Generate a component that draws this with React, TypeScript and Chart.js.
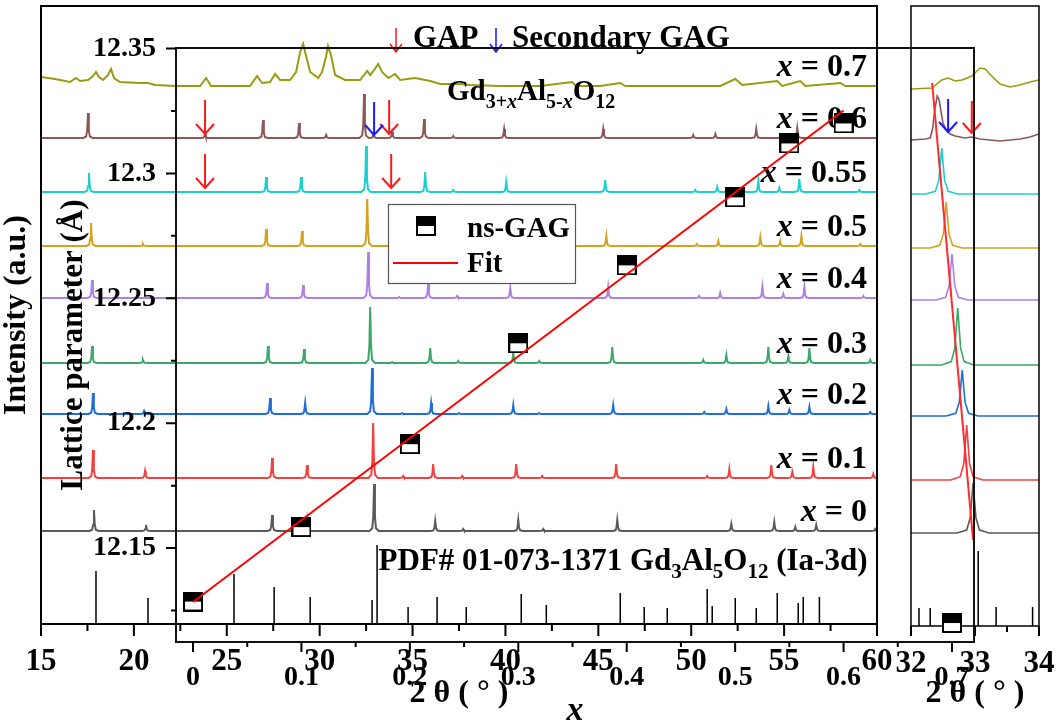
import React, { useEffect, useRef } from 'react';
import { Chart, registerables } from 'chart.js';

Chart.register(...registerables);

const SERIF = '"Liberation Serif", "Times New Roman", Times, serif';
const B = (s: number) => `bold ${s}px ${SERIF}`;
const BI = (s: number) => `italic bold ${s}px ${SERIF}`;

// ---------------- main XRD panel (2θ in °, intensity in a.u.) ----------------
const SAMPLE_LABELS = ['0', '0.1', '0.2', '0.3', '0.4', '0.5', '0.55', '0.6', '0.7'];
const TRACE_OFFSETS = [93, 146, 210, 261, 326, 378, 432, 486, 538];
const TRACE_COLORS = ['#5a5a5a', '#f2413f', '#1f6ed8', '#3aa866', '#b07fe6', '#d5a21a', '#1ccfcf', '#8b5757', '#9b9b12'];

// [2θ, peak height]
const PEAKS_X0 = [[17.85, 21], [20.65, 6], [27.44, 16], [29.32, 11], [32.93, 47], [36.22, 10], [37.72, 2], [40.69, 11], [42.03, 2], [46.02, 11], [52.16, 7], [54.47, 9], [55.6, 4], [56.73, 6], [59.9, 2]];
const PEAKS_X01 = [[17.8, 28], [20.6, 7], [27.44, 20], [29.32, 13], [32.88, 55], [34.49, 2], [36.11, 14], [37.67, 2], [40.58, 14], [41.98, 2], [45.96, 14], [50.86, 2], [52.05, 9], [54.31, 13], [55.44, 6], [56.57, 11], [59.8, 4]];
const PEAKS_X02 = [[17.8, 21], [20.55, 3], [27.33, 16], [29.22, 11], [32.82, 46], [34.44, 1], [36.0, 11], [37.51, 1], [40.42, 9], [41.82, 1], [45.8, 9], [50.7, 2], [51.89, 5], [54.15, 8], [55.28, 4], [56.36, 7], [59.64, 2]];
const PEAKS_X03 = [[17.75, 17], [20.49, 3], [27.22, 17], [29.16, 14], [32.72, 56], [33.9, 1], [35.95, 15], [37.46, 2], [40.42, 10], [41.82, 2], [45.75, 16], [50.65, 3], [51.89, 8], [54.15, 16], [55.23, 7], [56.36, 15], [59.64, 3]];
const PEAKS_X04 = [[17.75, 18], [27.17, 15], [29.11, 13], [32.61, 46], [34.28, 1], [35.84, 15], [37.4, 2], [40.26, 10], [45.53, 11], [50.43, 2], [51.56, 5], [53.83, 11], [54.96, 4], [56.09, 11], [59.27, 2]];
const PEAKS_X05 = [[17.69, 23], [20.49, 2], [27.12, 17], [29.05, 15], [32.56, 47], [35.68, 14], [37.3, 2], [40.09, 6], [45.43, 10], [50.3, 2], [51.46, 5], [53.72, 9], [54.79, 5], [55.93, 10], [59.1, 2]];
const PEAKS_X055 = [[17.58, 19], [27.12, 15], [29.0, 15], [32.5, 46], [35.68, 20], [37.19, 2], [40.04, 10], [45.37, 12], [50.22, 2], [51.4, 5], [53.61, 11], [54.74, 4], [55.82, 13], [59.05, 2]];
const PEAKS_X06 = [[17.53, 25], [23.83, 4], [26.95, 18], [28.89, 15], [30.35, 3], [32.39, 44], [32.9, 4], [33.9, 6], [35.62, 19], [37.19, 2], [39.93, 9], [45.26, 9], [50.11, 3], [51.3, 4], [53.5, 9], [55.71, 10]];
// x = 0.7 is broad and noisy: read as a point list [2θ, intensity]
const TRACE_X07 = [[15.0, 9], [15.75, 7], [16.56, 4], [16.88, 8], [17.1, 5], [17.53, 6], [17.8, 10], [17.96, 14], [18.12, 9], [18.34, 6], [18.61, 11], [18.77, 17], [18.93, 8], [19.25, 4], [20.33, 3], [20.76, 3], [21.14, 1], [22.22, 0], [23.56, 0], [23.89, 8], [24.15, 0], [26.25, 0], [26.63, 10], [26.9, 3], [27.33, 4], [27.6, 12], [27.87, 6], [28.41, 6], [28.73, 14], [28.95, 34], [29.11, 42], [29.27, 30], [29.49, 14], [29.92, 8], [30.13, 14], [30.35, 30], [30.45, 40], [30.62, 30], [30.83, 11], [31.37, 6], [32.18, 6], [32.56, 15], [32.72, 11], [32.93, 16], [33.15, 22], [33.36, 14], [33.69, 8], [34.06, 12], [34.33, 6], [35.14, 8], [35.95, 5], [36.49, 2], [37.56, 2], [38.1, 1], [39.72, 0], [41.87, 0], [43.59, 4], [43.81, 0], [45.1, 0], [46.18, 3], [46.45, 0], [49.41, 0], [51.56, 0], [52.37, 7], [52.75, 1], [54.63, 5], [54.9, 0], [55.87, 5], [56.14, 0], [58.03, 3], [58.3, 0], [60.0, 0]];
const MAIN_PEAKS = [PEAKS_X0, PEAKS_X01, PEAKS_X02, PEAKS_X03, PEAKS_X04, PEAKS_X05, PEAKS_X055, PEAKS_X06];

// PDF# 01-073-1371 reference sticks [2θ, height]
const PDF_STICKS = [[17.96, 53], [20.76, 26], [25.39, 50], [27.55, 37], [29.49, 27], [32.82, 24], [33.09, 79], [34.76, 17], [36.32, 27], [37.89, 17], [40.85, 30], [42.2, 19], [46.18, 31], [47.47, 17], [48.71, 16], [50.86, 35], [51.13, 18], [52.37, 26], [53.5, 16], [54.63, 31], [55.76, 21], [56.03, 27], [56.9, 27], [60.17, 19], [61.2, 21]];

// GAP / secondary GAG markers [2θ, sample index]
const GAP_MARKS = [[23.83, 7], [33.74, 7], [23.83, 6], [33.85, 6]];
const SECONDARY_MARKS = [[32.93, 7]];

// ---------------- zoomed panel 32–34° ----------------
const ZOOM_PEAKS = [[[32.97, 50]], [[32.87, 55]], [[32.8, 46]], [[32.73, 57]], [[32.64, 46]], [[32.55, 46]], [[32.48, 46]]];
const ZOOM_TRACE_X06 = [[32.0, 0], [32.22, 1], [32.3, 2], [32.34, 12], [32.37, 30], [32.41, 44], [32.44, 40], [32.47, 28], [32.5, 17], [32.55, 10], [32.61, 6], [32.69, 4], [32.84, 2], [32.95, 3], [33.08, 1], [33.39, -1], [33.7, 1], [33.86, 3], [34.0, 6]];
const ZOOM_TRACE_X07 = [[32.0, -1], [32.33, 0], [32.48, 8], [32.58, 10], [32.69, 7], [32.8, 8], [32.95, 12], [33.08, 20], [33.16, 19], [33.23, 14], [33.39, 4], [33.55, 1], [33.7, 3], [33.86, 6], [34.0, 8]];
const ZOOM_STICKS = [[32.125, 18], [32.3, 18], [33.05, 75], [33.33, 19], [33.9, 19], [34.2, 21]];
const ZOOM_GUIDE = [[32.33, 543], [32.97, 86]];
const ZOOM_GAP_MARKS = [[32.95, 7]];
const ZOOM_SECONDARY_MARKS = [[32.58, 7]];

// ---------------- inset: lattice parameter vs x ----------------
const X_CONTENT = [0, 0.1, 0.2, 0.3, 0.4, 0.5, 0.55, 0.6, 0.7];
const LATTICE = [12.1286, 12.1584, 12.1916, 12.232, 12.2632, 12.2904, 12.312, 12.32, 12.12];
const FIT_X = [0, 0.6];
const FIT_Y = [12.1284, 12.3252];

// peak drawing shape (relative 2θ, fraction of height)
const PEAK_SHAPE = [[-0.25, 0], [-0.1, 0.06], [-0.045, 0.3], [0, 1], [0.045, 0.3], [0.1, 0.06], [0.25, 0]];

function peakTrace(peaks: number[][], offset: number, from: number, to: number) {
  const pts: any[] = [{ x: from, y: offset }];
  peaks.forEach(([p, h]) => {
    PEAK_SHAPE.forEach(([dx, f]) => pts.push({ x: p + dx, y: offset + f * h }));
  });
  pts.push({ x: to, y: offset });
  return pts;
}
function pointTrace(points: number[][], offset: number) {
  return points.map(([x, v]) => ({ x, y: offset + v }));
}
function stickTrace(sticks: number[][]) {
  const pts: any[] = [];
  sticks.forEach(([x, h]) => {
    pts.push({ x, y: 0 }, { x, y: h }, { x, y: null });
  });
  return pts;
}

function drawRich(ctx: CanvasRenderingContext2D, segs: any[], x: number, y: number, align: string) {
  const widths = segs.map((s) => {
    ctx.font = s[1];
    return ctx.measureText(s[0]).width;
  });
  const total = widths.reduce((a, b) => a + b, 0);
  let cx = align === 'right' ? x - total : align === 'center' ? x - total / 2 : x;
  ctx.textAlign = 'left';
  ctx.textBaseline = 'alphabetic';
  segs.forEach((s, i) => {
    ctx.font = s[1];
    ctx.fillText(s[0], cx, y + (s[2] || 0));
    cx += widths[i];
  });
}

function arrow(ctx: CanvasRenderingContext2D, x: number, yTail: number, yTip: number, color: string, hw: number, hh: number, lw: number) {
  ctx.save();
  ctx.strokeStyle = color;
  ctx.lineWidth = lw;
  ctx.beginPath();
  ctx.moveTo(x, yTail);
  ctx.lineTo(x, yTip);
  ctx.moveTo(x - hw, yTip - hh);
  ctx.lineTo(x, yTip);
  ctx.lineTo(x + hw, yTip - hh);
  ctx.stroke();
  ctx.restore();
}

function ticksX(ctx: CanvasRenderingContext2D, scale: any, y: number, min: number, max: number, minor: number, major: number, majLen: number, minLen: number, dir: number) {
  ctx.save();
  ctx.strokeStyle = '#000';
  ctx.lineWidth = 2;
  ctx.beginPath();
  const start = Math.ceil(min / minor - 1e-9);
  for (let k = start; k * minor <= max + 1e-9; k++) {
    const v = k * minor;
    const isMaj = Math.abs(v / major - Math.round(v / major)) < 1e-6;
    const px = scale.getPixelForValue(v);
    ctx.moveTo(px, y);
    ctx.lineTo(px, y + dir * (isMaj ? majLen : minLen));
  }
  ctx.stroke();
  ctx.restore();
}
function ticksY(ctx: CanvasRenderingContext2D, scale: any, x: number, min: number, max: number, minor: number, major: number, majLen: number, minLen: number, dir: number) {
  ctx.save();
  ctx.strokeStyle = '#000';
  ctx.lineWidth = 2;
  ctx.beginPath();
  const start = Math.ceil(min / minor - 1e-9);
  for (let k = start; k * minor <= max + 1e-9; k++) {
    const v = k * minor;
    const isMaj = Math.abs(v / major - Math.round(v / major)) < 1e-6;
    const py = scale.getPixelForValue(v);
    ctx.moveTo(x, py);
    ctx.lineTo(x + dir * (isMaj ? majLen : minLen), py);
  }
  ctx.stroke();
  ctx.restore();
}

function makeMarker() {
  const m = document.createElement('canvas');
  m.width = 20;
  m.height = 20;
  const c = m.getContext('2d')!;
  c.fillStyle = '#fff';
  c.fillRect(0, 0, 20, 20);
  c.fillStyle = '#000';
  c.fillRect(0, 0, 20, 10);
  c.strokeStyle = '#000';
  c.lineWidth = 2;
  c.strokeRect(1, 1, 18, 18);
  return m;
}

const RED = '#ff1a1a';
const BLUE = '#1a1aff';
// hidden grid; tick length only spaces the labels away from the axis (marks drawn by plugins)
const gridSpace = (len: number) => ({ display: false, drawTicks: true, tickLength: len });

export default function App() {
  const mainRef = useRef<HTMLCanvasElement>(null);
  const zoomRef = useRef<HTMLCanvasElement>(null);
  const insetRef = useRef<HTMLCanvasElement>(null);

  useEffect(() => {
    const marker = makeMarker();

    // ---------- main panel ----------
    const mainDatasets: any[] = [];
    SAMPLE_LABELS.forEach((lab, i) => {
      const data = i === 8 ? pointTrace(TRACE_X07, TRACE_OFFSETS[i]) : peakTrace(MAIN_PEAKS[i], TRACE_OFFSETS[i], 15, 60);
      mainDatasets.push({ label: 'x = ' + lab, data, borderColor: TRACE_COLORS[i], borderWidth: 2, pointRadius: 0, tension: 0 });
    });
    mainDatasets.push({ label: 'PDF# 01-073-1371', data: stickTrace(PDF_STICKS), borderColor: '#000', borderWidth: 1.5, pointRadius: 0, spanGaps: false, clip: false });

    const mainDecor = {
      id: 'mainDecor',
      afterDraw(chart: any) {
        const { ctx, chartArea: ca } = chart;
        const xs = chart.scales.x;
        const ys = chart.scales.y;
        ctx.save();
        ctx.strokeStyle = '#000';
        ctx.lineWidth = 2;
        ctx.strokeRect(ca.left, ca.top, ca.right - ca.left, ca.bottom - ca.top);
        ticksX(ctx, xs, ca.bottom, 15, 60, 2.5, 5, 12, 7, 1);
        ctx.fillStyle = '#000';
        SAMPLE_LABELS.forEach((lab, i) => {
          const y = ys.getPixelForValue(TRACE_OFFSETS[i]) - 10;
          drawRich(ctx, [['x', BI(32)], [' = ' + lab, B(32)]], ca.right - 10, y, 'right');
        });
        // phase markers
        GAP_MARKS.forEach(([t, i]) => {
          const tip = ys.getPixelForValue(TRACE_OFFSETS[i]) - 4;
          arrow(ctx, xs.getPixelForValue(t), tip - 34, tip, RED, 9, 10, 2);
        });
        SECONDARY_MARKS.forEach(([t, i]) => {
          const tip = ys.getPixelForValue(TRACE_OFFSETS[i]) - 3;
          arrow(ctx, xs.getPixelForValue(t), tip - 33, tip, BLUE, 9, 10, 2);
        });
        // key
        arrow(ctx, 396, 28, 52, RED, 6, 8, 1.5);
        arrow(ctx, 496, 28, 52, BLUE, 6, 8, 1.5);
        ctx.fillStyle = '#000';
        drawRich(ctx, [['GAP', B(31)]], 413, 47, 'left');
        drawRich(ctx, [['Secondary GAG', B(31)]], 512, 47, 'left');
        // formula
        drawRich(ctx, [['Gd', B(29)], ['3+', B(20), 8], ['x', BI(20), 8], ['Al', B(29)], ['5-', B(20), 8], ['x', BI(20), 8], ['O', B(29)], ['12', B(20), 8]], 447, 100, 'left');
        // PDF label
        drawRich(ctx, [['PDF# 01-073-1371 Gd', B(31)], ['3', B(21), 8], ['Al', B(31)], ['5', B(21), 8], ['O', B(31)], ['12', B(21), 8], [' (Ia-3d)', B(31)]], 623, 570, 'center');
        // axis titles
        drawRich(ctx, [['2 θ ( ° )', B(32)]], (ca.left + ca.right) / 2, 702, 'center');
        ctx.save();
        ctx.translate(25, (ca.top + ca.bottom) / 2);
        ctx.rotate(-Math.PI / 2);
        drawRich(ctx, [['Intensity (a.u.)', B(32)]], 0, 0, 'center');
        ctx.restore();
        ctx.restore();
      },
    };

    const mainChart = new Chart(mainRef.current!, {
      type: 'line',
      data: { datasets: mainDatasets },
      options: {
        responsive: false,
        animation: false,
        events: [],
        layout: { padding: { left: 41, top: 6, right: 185, bottom: 44 } },
        plugins: { legend: { display: false }, tooltip: { enabled: false } },
        scales: {
          x: {
            type: 'linear', min: 15, max: 60, position: 'bottom',
            afterFit: (s: any) => { s.height = 60; },
            grid: gridSpace(19), border: { display: false },
            ticks: { stepSize: 5, autoSkip: false, maxRotation: 0, padding: 0, color: '#000', font: { family: SERIF, size: 31, weight: 'bold' } },
          },
          y: { type: 'linear', min: 0, max: 618, display: false },
        },
      } as any,
      plugins: [mainDecor],
    });

    // ---------- zoom panel ----------
    const zoomDatasets: any[] = [];
    zoomDatasets.push({ label: 'shift guide', data: ZOOM_GUIDE.map(([x, y]) => ({ x, y })), borderColor: '#ff2a2a', borderWidth: 2, pointRadius: 0 });
    SAMPLE_LABELS.forEach((lab, i) => {
      let data;
      if (i === 7) data = pointTrace(ZOOM_TRACE_X06, TRACE_OFFSETS[i]);
      else if (i === 8) data = pointTrace(ZOOM_TRACE_X07, TRACE_OFFSETS[i]);
      else data = peakTrace(ZOOM_PEAKS[i], TRACE_OFFSETS[i], 32, 34);
      zoomDatasets.push({ label: 'x = ' + lab, data, borderColor: TRACE_COLORS[i], borderWidth: 1.6, pointRadius: 0, tension: 0 });
    });
    zoomDatasets.push({ label: 'PDF', data: stickTrace(ZOOM_STICKS), borderColor: '#000', borderWidth: 1.5, pointRadius: 0, spanGaps: false, clip: false });

    const zoomDecor = {
      id: 'zoomDecor',
      afterDraw(chart: any) {
        const { ctx, chartArea: ca } = chart;
        const xs = chart.scales.x;
        const ys = chart.scales.y;
        ctx.save();
        ctx.strokeStyle = '#000';
        ctx.lineWidth = 1.5;
        ctx.strokeRect(ca.left, ca.top, ca.right - ca.left, ca.bottom - ca.top);
        ticksX(ctx, xs, ca.bottom, 32, 34, 0.5, 1, 10, 6, 1);
        ZOOM_GAP_MARKS.forEach(([t, i]) => {
          const tip = ys.getPixelForValue(TRACE_OFFSETS[i]) - 7;
          arrow(ctx, xs.getPixelForValue(t), tip - 32, tip, RED, 9, 10, 2);
        });
        ZOOM_SECONDARY_MARKS.forEach(([t, i]) => {
          const tip = ys.getPixelForValue(TRACE_OFFSETS[i]) - 8;
          arrow(ctx, xs.getPixelForValue(t), tip - 33, tip, BLUE, 9, 10, 2);
        });
        ctx.fillStyle = '#000';
        drawRich(ctx, [['2 θ ( ° )', B(32)]], (ca.left + ca.right) / 2, 702, 'center');
        ctx.restore();
      },
    };

    const zoomChart = new Chart(zoomRef.current!, {
      type: 'line',
      data: { datasets: zoomDatasets },
      options: {
        responsive: false,
        animation: false,
        events: [],
        layout: { padding: { left: 911, top: 6, right: 23, bottom: 42 } },
        plugins: { legend: { display: false }, tooltip: { enabled: false } },
        scales: {
          x: {
            type: 'linear', min: 32, max: 34, position: 'bottom',
            afterFit: (s: any) => { s.height = 60; },
            grid: gridSpace(19), border: { display: false },
            ticks: { stepSize: 1, autoSkip: false, maxRotation: 0, padding: 0, color: '#000', font: { family: SERIF, size: 31, weight: 'bold' } },
          },
          y: { type: 'linear', min: 0, max: 620, display: false },
        },
      } as any,
      plugins: [zoomDecor],
    });

    // ---------- inset ----------
    const insetDecor = {
      id: 'insetDecor',
      afterDraw(chart: any) {
        const { ctx, chartArea: ca } = chart;
        const xs = chart.scales.x;
        const ys = chart.scales.y;
        ctx.save();
        ctx.strokeStyle = '#111';
        ctx.lineWidth = 2;
        ctx.strokeRect(ca.left, ca.top, ca.right - ca.left, ca.bottom - ca.top);
        ticksX(ctx, xs, ca.bottom, xs.min, xs.max, 0.05, 0.1, 10, 5, 1);
        ticksY(ctx, ys, ca.left, ys.min, ys.max, 0.025, 0.05, 10, 5, -1);
        // legend
        ctx.fillStyle = '#fff';
        ctx.fillRect(388, 204, 187, 79);
        ctx.strokeStyle = '#555';
        ctx.lineWidth = 1.2;
        ctx.strokeRect(388.5, 204.5, 187, 79);
        ctx.drawImage(marker, 416, 216);
        ctx.fillStyle = '#000';
        drawRich(ctx, [['ns-GAG', B(29)]], 467, 237, 'left');
        ctx.strokeStyle = '#ff0000';
        ctx.lineWidth = 2;
        ctx.beginPath();
        ctx.moveTo(393, 263);
        ctx.lineTo(458, 263);
        ctx.stroke();
        drawRich(ctx, [['Fit', B(29)]], 467, 272, 'left');
        // titles
        drawRich(ctx, [['x', BI(34)]], (ca.left + ca.right) / 2, 720, 'center');
        ctx.save();
        ctx.translate(82, (ca.top + ca.bottom) / 2);
        ctx.rotate(-Math.PI / 2);
        drawRich(ctx, [['Lattice parameter (Å)', B(31)]], 0, 0, 'center');
        ctx.restore();
        ctx.restore();
      },
    };

    const insetChart = new Chart(insetRef.current!, {
      type: 'line',
      data: {
        datasets: [
          { label: 'Fit', data: FIT_X.map((x, i) => ({ x, y: FIT_Y[i] })), borderColor: '#ff0000', borderWidth: 2, pointRadius: 0 },
          { label: 'ns-GAG', data: X_CONTENT.map((x, i) => ({ x, y: LATTICE[i] })), showLine: false, pointStyle: marker, pointRadius: 10, borderColor: '#000', backgroundColor: '#000' },
        ],
      },
      options: {
        responsive: false,
        animation: false,
        events: [],
        layout: { padding: { left: 76, top: 48, right: 88, bottom: 36 } },
        plugins: { legend: { display: false }, tooltip: { enabled: false } },
        scales: {
          x: {
            type: 'linear', min: -0.0157, max: 0.7203, position: 'bottom',
            afterFit: (s: any) => { s.height = 50; },
            grid: gridSpace(19), border: { display: false },
            ticks: {
              stepSize: 0.05, includeBounds: false, autoSkip: false, maxRotation: 0, padding: 0, color: '#000',
              font: { family: SERIF, size: 28, weight: 'bold' },
              callback: (v: number) => (Math.abs(v * 10 - Math.round(v * 10)) < 1e-6 ? String(Math.round(v * 10) / 10) : ''),
            },
          },
          y: {
            type: 'linear', min: 12.1124, max: 12.3502, position: 'left',
            afterFit: (s: any) => { s.width = 100; },
            grid: gridSpace(20), border: { display: false },
            ticks: {
              stepSize: 0.025, includeBounds: false, autoSkip: false, padding: 0, color: '#000',
              font: { family: SERIF, size: 28, weight: 'bold' },
              callback: (v: number) => (Math.abs(v * 20 - Math.round(v * 20)) < 1e-6 ? String(Math.round(v * 100) / 100) : ''),
            },
          },
        },
      } as any,
      plugins: [insetDecor],
    });

    return () => {
      mainChart.destroy();
      zoomChart.destroy();
      insetChart.destroy();
    };
  }, []);

  const cs: React.CSSProperties = { position: 'absolute', left: 0, top: 0 };
  return (
    <div style={{ position: 'absolute', left: 0, top: 0, width: 1062, height: 728, background: '#fff' }}>
      <canvas ref={mainRef} width={1062} height={728} style={cs} />
      <canvas ref={zoomRef} width={1062} height={728} style={cs} />
      <canvas ref={insetRef} width={1062} height={728} style={cs} />
    </div>
  );
}
